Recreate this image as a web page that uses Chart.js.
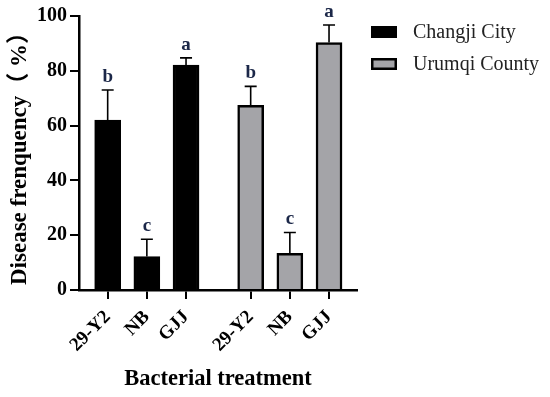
<!DOCTYPE html>
<html>
<head>
<meta charset="utf-8">
<script src="https://cdn.jsdelivr.net/npm/chart.js@4.4.0/dist/chart.umd.min.js"></script>
<style>
html,body{margin:0;padding:0;background:#fff;}
#wrap{width:550px;height:397px;position:relative;}
</style>
</head>
<body>
<div id="wrap"><canvas id="c" width="550" height="397"></canvas></div>
<script>
const categories = ['29-Y2', 'NB', 'GJJ', '29-Y2', 'NB', 'GJJ'];
const xPositions = [1, 2, 3, 4.65, 5.65, 6.65];
const seriesNames = ['Changji City', 'Urumqi County'];
const changjiValues = [62, 12.2, 82.1];
const changjiErrors = [11, 6.3, 2.6];
const urumqiValues = [67.4, 13.4, 90.3];
const urumqiErrors = [6.9, 7.6, 6.4];
const changjiLetters = ['b', 'c', 'a'];
const urumqiLetters = ['b', 'c', 'a'];
const yTicks = [0, 20, 40, 60, 80, 100];

const SERIF = '"Liberation Serif", "Times New Roman", "Noto Sans CJK SC", serif';

const changjiData = changjiValues.map((v, i) => ({x: xPositions[i], y: v}));
const urumqiData = urumqiValues.map((v, i) => ({x: xPositions[i + 3], y: v}));

const errorPlugin = {
  id: 'errorBars',
  afterDatasetsDraw(chart) {
    const ctx = chart.ctx;
    const ys = chart.scales.y;
    const sets = [
      {vals: changjiValues, errs: changjiErrors, letters: changjiLetters},
      {vals: urumqiValues, errs: urumqiErrors, letters: urumqiLetters}
    ];
    sets.forEach((s, di) => {
      const meta = chart.getDatasetMeta(di);
      meta.data.forEach((el, i) => {
        const x = el.x;
        const yb = ys.getPixelForValue(s.vals[i]);
        const yt = ys.getPixelForValue(s.vals[i] + s.errs[i]);
        ctx.save();
        ctx.strokeStyle = '#000';
        ctx.lineWidth = 1.6;
        ctx.beginPath();
        ctx.moveTo(x, yb);
        ctx.lineTo(x, yt);
        ctx.moveTo(x - 6, yt);
        ctx.lineTo(x + 6, yt);
        ctx.stroke();
        ctx.fillStyle = '#1b2748';
        ctx.font = 'bold 19px ' + SERIF;
        ctx.textAlign = 'center';
        ctx.textBaseline = 'alphabetic';
        ctx.fillText(s.letters[i], x, yt - 8);
        ctx.restore();
      });
    });
  }
};

const legendPlugin = {
  id: 'customLegend',
  afterDraw(chart) {
    const ctx = chart.ctx;
    const items = [
      {name: seriesNames[0], fill: '#000', y: 32},
      {name: seriesNames[1], fill: '#a4a4a8', y: 64}
    ];
    items.forEach(it => {
      ctx.save();
      ctx.fillStyle = '#000';
      ctx.fillRect(371, it.y - 6, 26, 12);
      ctx.fillStyle = it.fill;
      ctx.fillRect(373.5, it.y - 3.5, 21, 7);
      ctx.fillStyle = '#222';
      ctx.font = '20px ' + SERIF;
      ctx.textAlign = 'left';
      ctx.textBaseline = 'middle';
      ctx.fillText(it.name, 413, it.y + 1);
      ctx.restore();
    });
  }
};

new Chart(document.getElementById('c'), {
  type: 'bar',
  data: {
    datasets: [
      {label: seriesNames[0], data: changjiData, backgroundColor: '#000', borderColor: '#000', borderWidth: 2.5, barThickness: 26, grouped: false},
      {label: seriesNames[1], data: urumqiData, backgroundColor: '#a4a4a8', borderColor: '#000', borderWidth: 2.5, barThickness: 26, grouped: false}
    ]
  },
  options: {
    responsive: false,
    animation: false,
    events: [],
    layout: {padding: {left: 0, right: 193, top: 16, bottom: 4}},
    plugins: {legend: {display: false}, tooltip: {enabled: false}},
    scales: {
      x: {
        type: 'linear',
        offset: false,
        min: 0.268,
        max: 7.364,
        afterBuildTicks(scale) { scale.ticks = xPositions.map(v => ({value: v})); },
        afterFit(scale) { scale.height = 103; },
        ticks: {
          callback: (v, i) => categories[i],
          minRotation: 45, maxRotation: 45,
          autoSkip: false,
          color: '#000',
          padding: 7,
          font: {family: SERIF, size: 19, weight: 'bold'}
        },
        grid: {display: true, offset: false, drawOnChartArea: false, drawTicks: true, tickLength: 9, color: '#000', lineWidth: 2},
        border: {display: true, color: '#000', width: 2.5},
        title: {display: true, text: 'Bacterial treatment', color: '#000', font: {family: SERIF, size: 22.5, weight: 'bold'}, padding: {top: 0, bottom: 0}}
      },
      y: {
        min: 0, max: 100,
        afterBuildTicks(scale) { scale.ticks = yTicks.map(v => ({value: v})); },
        afterFit(scale) { scale.width = 79; },
        ticks: {
          color: '#000',
          padding: 3,
          font: {family: SERIF, size: 20, weight: 'bold'}
        },
        grid: {display: true, drawOnChartArea: false, drawTicks: true, tickLength: 9, color: '#000', lineWidth: 2},
        border: {display: true, color: '#000', width: 2.5},
        title: {display: true, text: 'Disease frenquency（ %）', color: '#000', font: {family: SERIF, size: 23, weight: 'bold'}, padding: {top: 6, bottom: 0}}
      }
    }
  },
  plugins: [errorPlugin, legendPlugin]
});
</script>
</body>
</html>
